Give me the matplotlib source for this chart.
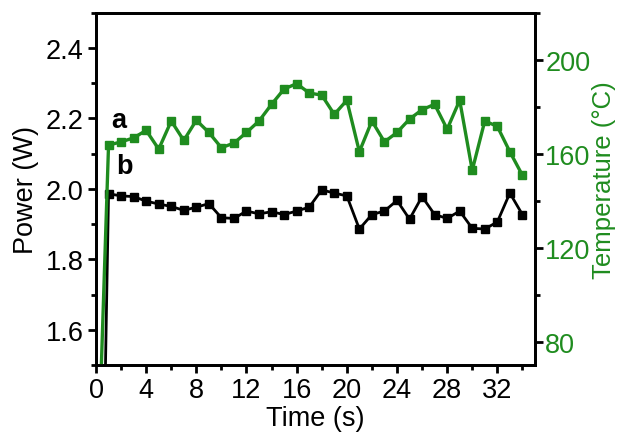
import matplotlib
matplotlib.use('Agg')
import matplotlib.pyplot as plt
from matplotlib.ticker import MultipleLocator

plt.rcParams['font.family'] = ['Liberation Sans', 'DejaVu Sans']

# time axis (s)
time_s = list(range(0, 35))

# curve b: power (W), left axis
power_w = [0.0, 1.986, 1.980, 1.978, 1.965, 1.957, 1.950, 1.939, 1.948, 1.958,
           1.918, 1.916, 1.937, 1.929, 1.935, 1.927, 1.937, 1.948, 1.997, 1.988,
           1.980, 1.886, 1.927, 1.937, 1.967, 1.914, 1.978, 1.927, 1.916, 1.937,
           1.888, 1.886, 1.906, 1.988, 1.927]

# curve a: temperature (deg C), right axis
temp_c = [0.0, 163.6, 165.0, 166.7, 169.9, 161.9, 173.9, 165.6, 174.2, 169.0,
          162.5, 164.5, 169.0, 173.9, 181.0, 187.5, 189.8, 185.8, 184.9, 176.7,
          182.7, 160.8, 173.9, 165.0, 169.0, 174.7, 178.7, 181.0, 170.4, 182.7,
          152.9, 173.9, 171.6, 160.8, 150.8]

green = '#1f8c1f'

fig = plt.figure(figsize=(6.17, 4.39), dpi=100)
ax = fig.add_axes([0.1556, 0.1663, 0.867 - 0.1556, 0.9688 - 0.1663])
ax2 = ax.twinx()

ax.plot(time_s, power_w, color='black', lw=2, marker='s', ms=6, zorder=3)
ax2.plot(time_s, temp_c, color=green, lw=2.4, marker='s', ms=6)

ax.set_xlim(0, 35)
ax.set_ylim(1.5, 2.5)
ax2.set_ylim(70, 220)

ax.xaxis.set_major_locator(MultipleLocator(4))
ax.xaxis.set_minor_locator(MultipleLocator(2))
ax.yaxis.set_major_locator(MultipleLocator(0.2))
ax.yaxis.set_minor_locator(MultipleLocator(0.1))
ax2.yaxis.set_minor_locator(MultipleLocator(20))
ax2.set_yticks([80, 120, 160, 200])

fs = 19.5
for a in (ax, ax2):
    for s in a.spines.values():
        s.set_linewidth(2)
    a.tick_params(which='major', length=6, width=2, labelsize=fs, pad=3)
    a.tick_params(which='minor', length=3.5, width=2)
ax.yaxis.set_major_formatter(matplotlib.ticker.FormatStrFormatter('%.1f'))
ax2.tick_params(axis='y', labelcolor=green, colors=green, pad=1.5)
ax2.tick_params(axis='y', which='both', color='black')

ax.set_xlabel('Time (s)', fontsize=fs, labelpad=1)
ax.set_ylabel('Power (W)', fontsize=fs, labelpad=5)
# right-hand label placed by hand so it stays inside the canvas
fig.text(604 / 617, 0.59, 'Temperature (\u00b0C)', fontsize=18.5, color=green,
         rotation=90, ha='center', va='center')

ax.text(1.8, 2.195, 'a', fontsize=fs, fontweight='bold', va='center', ha='center')
ax.text(2.3, 2.065, 'b', fontsize=fs, fontweight='bold', va='center', ha='center')

fig.savefig('out.png', dpi=100)
